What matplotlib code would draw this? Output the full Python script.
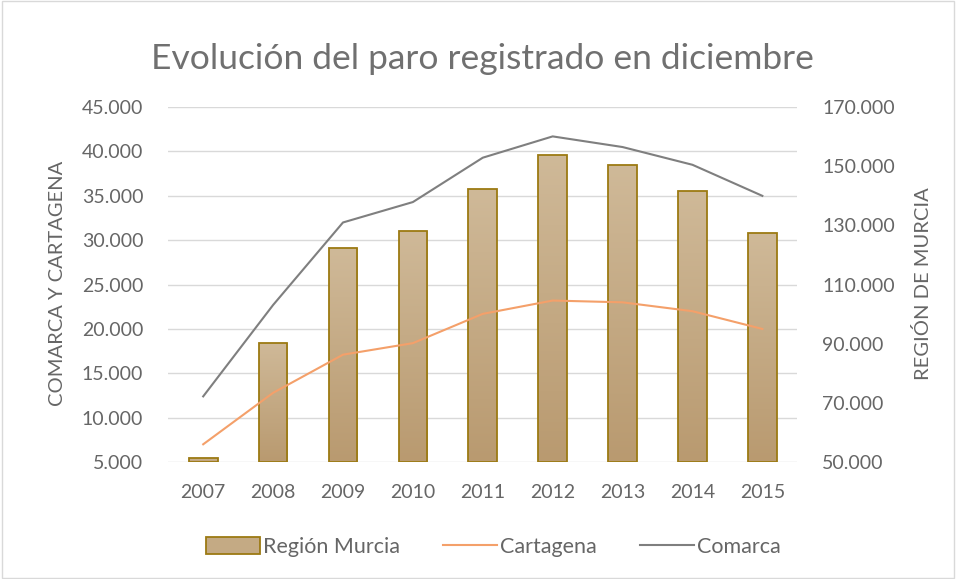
import numpy as np
import matplotlib.pyplot as plt
from matplotlib.patches import Rectangle
from matplotlib.lines import Line2D
from matplotlib.ticker import FuncFormatter
from matplotlib.colors import LinearSegmentedColormap

plt.rcParams['font.family'] = ['Lato', 'DejaVu Sans']

years = ['2007', '2008', '2009', '2010', '2011', '2012', '2013', '2014', '2015']
region_murcia = [51300, 90300, 122200, 128200, 142200, 153800, 150400, 141700, 127400]
cartagena = [7000, 12800, 17100, 18400, 21700, 23200, 23000, 22000, 20000]
comarca = [12400, 22700, 32000, 34300, 39300, 41700, 40500, 38500, 35000]

left_ticks = np.arange(5000, 45001, 5000)
right_ticks = np.arange(50000, 170001, 20000)

txt = '#666666'
grid_c = '#d9d9d9'


def miles(v, pos=None):
    return f'{int(v):,}'.replace(',', '.')


fig = plt.figure(figsize=(9.56, 5.79), dpi=100)
fig.patches.append(Rectangle((0.002, 0.002), 0.996, 0.996, transform=fig.transFigure,
                             fill=False, edgecolor=grid_c, linewidth=1))

# bars on the primary axes (right-hand scale), lines on the twin (left-hand scale)
ax = fig.add_axes([0.176, 0.202, 0.658, 0.613])
ax2 = ax.twinx()

x = np.arange(len(years))
base = right_ticks[0]

# gridlines follow the left scale, drawn behind the bars
for v in left_ticks:
    yv = right_ticks[0] + (v - left_ticks[0]) * (right_ticks[-1] - right_ticks[0]) / (left_ticks[-1] - left_ticks[0])
    ax.axhline(yv, color=grid_c, linewidth=1, zorder=0)

bars = ax.bar(x, np.array(region_murcia) - base, bottom=base, width=0.41,
              facecolor='none', edgecolor='#9c7a12', linewidth=1.3, zorder=3)
grad = np.linspace(0, 1, 100).reshape(-1, 1)
cmap = LinearSegmentedColormap.from_list('bar', ['#b99a70', '#cfb998'])
for b in bars:
    x0, y0 = b.get_x(), b.get_y()
    im = ax.imshow(grad, extent=[x0, x0 + b.get_width(), y0, y0 + b.get_height()],
                   origin='lower', cmap=cmap, aspect='auto', zorder=2)
    im.set_clip_path(b)
ax.set_xlim(-0.5, len(years) - 0.5)
ax.set_ylim(right_ticks[0], right_ticks[-1])
ax2.set_ylim(left_ticks[0], left_ticks[-1])

ax2.plot(x, cartagena, color='#f4a06a', linewidth=1.5, zorder=4)
ax2.plot(x, comarca, color='#7f7f7f', linewidth=1.5, zorder=4)

for a in (ax, ax2):
    for s in a.spines.values():
        s.set_visible(False)
    a.tick_params(length=0, colors=txt, labelsize=14)

ax.yaxis.tick_right()
ax.set_yticks(right_ticks)
ax.yaxis.set_major_formatter(FuncFormatter(miles))
ax.tick_params(axis='y', pad=18)
ax2.yaxis.tick_left()
ax2.set_yticks(left_ticks)
ax2.yaxis.set_major_formatter(FuncFormatter(miles))
ax2.tick_params(axis='y', pad=18)

ax.set_xticks(x)
ax.set_xticklabels(years)
ax.tick_params(axis='x', pad=16)

fig.text(0.060, 0.51, 'COMARCA Y CARTAGENA', rotation=90, ha='center', va='center',
         color=txt, fontsize=14.5)
fig.text(0.966, 0.51, 'REGIÓN DE MURCIA', rotation=90, ha='center', va='center',
         color=txt, fontsize=14.5)

fig.text(0.505, 0.881, 'Evolución del paro registrado en diciembre', ha='center', va='baseline',
         color='#707070', fontsize=25.5)

handles = [Rectangle((0, 0), 1, 1, facecolor='#c4aa84', edgecolor='#9c7a12', linewidth=1.3),
           Line2D([], [], color='#f4a06a', linewidth=1.5),
           Line2D([], [], color='#7f7f7f', linewidth=1.5)]
fig.legend(handles, ['Región Murcia', 'Cartagena', 'Comarca'], loc='center',
           bbox_to_anchor=(0.516, 0.055), ncol=3, frameon=False, fontsize=15.5,
           labelcolor=txt, handlelength=2.5, handleheight=0.8, handletextpad=0.15,
           columnspacing=2.0)

fig.savefig('out.png', dpi=100)
